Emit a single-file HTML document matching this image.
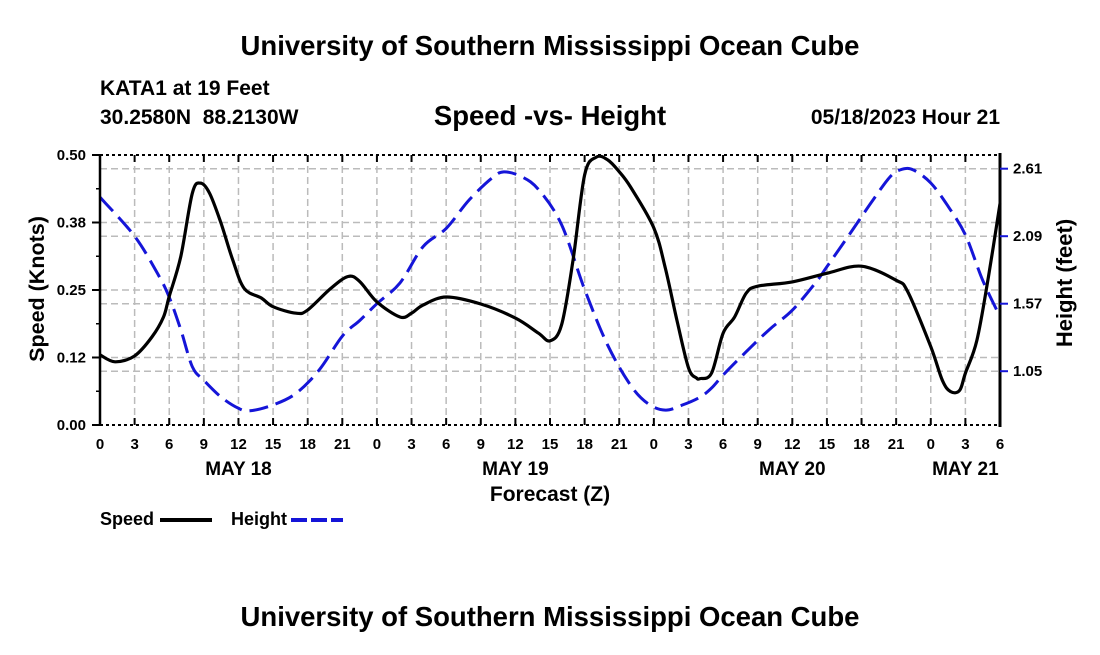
<!DOCTYPE html>
<html><head><meta charset="utf-8"><style>
body{margin:0;background:#fff;width:1100px;height:650px;overflow:hidden}
svg text{font-family:"Liberation Sans",sans-serif;font-weight:bold;fill:#000}
</style></head><body>
<svg id="chart" width="1100" height="650" xmlns="http://www.w3.org/2000/svg">
<text x="550" y="55" font-size="27.5" text-anchor="middle">University of Southern Mississippi Ocean Cube</text>
<text x="100" y="95" font-size="21">KATA1 at 19 Feet</text>
<text x="100" y="124" font-size="21" xml:space="preserve">30.2580N  88.2130W</text>
<text x="550" y="125" font-size="27.5" text-anchor="middle">Speed -vs- Height</text>
<text x="1000" y="124" font-size="21" text-anchor="end">05/18/2023 Hour 21</text>
<text x="550" y="626" font-size="27.5" text-anchor="middle">University of Southern Mississippi Ocean Cube</text>
<g id="grid"></g>
<g id="marks"></g>
<g id="axes"></g>
<text x="550" y="501" font-size="21" text-anchor="middle">Forecast (Z)</text>
<text transform="translate(44,289) rotate(-90)" font-size="21.5" text-anchor="middle">Speed (Knots)</text>
<text transform="translate(1072,283) rotate(-90)" font-size="22" text-anchor="middle">Height (feet)</text>
<g>
<text x="100" y="525" font-size="18">Speed</text>
<line x1="160" y1="520" x2="212" y2="520" stroke="#000" stroke-width="4"/>
<text x="231" y="525" font-size="18">Height</text>
<line x1="291" y1="520" x2="343" y2="520" stroke="#1515d8" stroke-width="4" stroke-dasharray="16,4"/>
</g>
</svg>
<script>
const speedHours=[0,1.3,3,4.5,5.5,6,7,8,8.7,9.5,10.5,11.5,12.5,14,15,17,18,20,21.5,22.5,24,26,27,28,30,33,36,38,39,40,41,42,43,44,45,46,48,49,50,51,51.7,52,53,54,55,56,57,60,63,66,69,70,72,73,73.7,74.5,75,76,77,78];
const speedValues=[0.130,0.117,0.128,0.163,0.200,0.238,0.312,0.429,0.448,0.429,0.373,0.306,0.253,0.235,0.219,0.207,0.213,0.253,0.275,0.266,0.228,0.200,0.207,0.222,0.237,0.224,0.198,0.170,0.156,0.185,0.306,0.463,0.496,0.491,0.469,0.440,0.365,0.290,0.194,0.106,0.087,0.086,0.096,0.170,0.200,0.244,0.257,0.265,0.281,0.294,0.268,0.247,0.145,0.083,0.062,0.064,0.096,0.157,0.275,0.410];
const heightHours=[0,3,5,6,7,8,9,10.5,12,13,15,17,19,21,22.5,24,26,28,30,32,34,35,36.5,38,40,42,44,46,47.5,49,50.5,52,53,54,56,58,60,62,63,65,67,68.5,69.5,70.5,72,73.5,75,76.5,78];
const heightValues=[2.39,2.09,1.80,1.62,1.37,1.085,0.98,0.85,0.764,0.745,0.79,0.88,1.06,1.32,1.44,1.57,1.73,2.01,2.15,2.37,2.54,2.585,2.55,2.45,2.18,1.68,1.25,0.94,0.80,0.75,0.79,0.85,0.92,1.02,1.20,1.37,1.52,1.73,1.855,2.11,2.37,2.55,2.605,2.60,2.50,2.32,2.10,1.75,1.47];
const xTickLabels=["0","3","6","9","12","15","18","21","0","3","6","9","12","15","18","21","0","3","6","9","12","15","18","21","0","3","6"];
const dayLabels=["MAY 18","MAY 19","MAY 20","MAY 21"];
const dayLabelHours=[12,36,60,75];
const leftTicks=[0,0.125,0.25,0.375,0.5];
const leftTickLabels=["0.00","0.12","0.25","0.38","0.50"];
const rightTicks=[1.05,1.57,2.09,2.61];
const rightTickLabels=["1.05","1.57","2.09","2.61"];

const X0=100,X1=1000,YT=155,YB=425,HMAX=78;
const sx=h=>X0+(X1-X0)*h/HMAX;
const syL=v=>YB-(YB-YT)*v/0.5;
const syR=v=>168.7+(2.61-v)*67.5/0.52;
const NS="http://www.w3.org/2000/svg";
function mk(parent,tag,attrs){const e=document.createElementNS(NS,tag);for(const k in attrs)e.setAttribute(k,attrs[k]);parent.appendChild(e);return e;}
function smooth(pts){
  let d="M"+pts[0][0].toFixed(1)+","+pts[0][1].toFixed(1);
  for(let i=0;i<pts.length-1;i++){
    const p0=pts[Math.max(0,i-1)],p1=pts[i],p2=pts[i+1],p3=pts[Math.min(pts.length-1,i+2)];
    const c1=[p1[0]+(p2[0]-p0[0])/6,p1[1]+(p2[1]-p0[1])/6];
    const c2=[p2[0]-(p3[0]-p1[0])/6,p2[1]-(p3[1]-p1[1])/6];
    d+=" C"+c1[0].toFixed(1)+","+c1[1].toFixed(1)+" "+c2[0].toFixed(1)+","+c2[1].toFixed(1)+" "+p2[0].toFixed(1)+","+p2[1].toFixed(1);
  }
  return d;
}
const grid=document.getElementById('grid'),marks=document.getElementById('marks'),axes=document.getElementById('axes');
const gs={stroke:"#bbb","stroke-width":1.5,"stroke-dasharray":"7,4",fill:"none"};
for(let i=1;i<xTickLabels.length-1;i++){
  const x=sx(i*3);
  const l=mk(grid,'line',Object.assign({x1:x,y1:YT,x2:x,y2:YB},gs));
  
  
}
for(const v of leftTicks.slice(1,-1)){
  const l=mk(grid,'line',Object.assign({x1:X0,y1:syL(v),x2:X1,y2:syL(v)},gs));
  
  
}
for(const v of rightTicks){
  const l=mk(grid,'line',Object.assign({x1:X0,y1:syR(v),x2:X1,y2:syR(v)},gs));
  
  
}
const hl=mk(marks,'path',{d:smooth(heightHours.map((h,i)=>[sx(h),syR(heightValues[i])])),fill:"none",stroke:"#1515d8","stroke-width":3,"stroke-dasharray":"19,8"});


const sl=mk(marks,'path',{d:smooth(speedHours.map((h,i)=>[sx(h),syL(speedValues[i])])),fill:"none",stroke:"#000","stroke-width":3.2,"stroke-linejoin":"round"});


for(const y of [YT,YB]){
  const l=mk(axes,'line',{x1:X0,y1:y,x2:X1,y2:y,stroke:"#000","stroke-width":2,"stroke-dasharray":"3,3"});
  
  
}
const la=mk(axes,'line',{x1:X0,y1:YT,x2:X0,y2:YB,stroke:"#000","stroke-width":2.5});


const ra=mk(axes,'line',{x1:X1,y1:YT-2,x2:X1,y2:YB+2,stroke:"#000","stroke-width":3});


xTickLabels.forEach((t,i)=>{
  const x=sx(i*3);
  const a=mk(axes,'line',{x1:x,y1:YB,x2:x,y2:YB-7,stroke:"#000","stroke-width":2});
  
  
  const b=mk(axes,'line',{x1:x,y1:YT,x2:x,y2:YT+7,stroke:"#000","stroke-width":2});
  
  
  const tx=mk(axes,'text',{x:x,y:449,"font-size":15,"text-anchor":"middle"});tx.textContent=t;
  
  
});
dayLabels.forEach((d,i)=>{
  const tx=mk(axes,'text',{x:sx(dayLabelHours[i]),y:475,"font-size":19,"text-anchor":"middle"});tx.textContent=d;
  
  
});
for(let v=0.0625;v<0.5;v+=0.125){
  const m=mk(axes,'line',{x1:X0,y1:syL(v),x2:X0-4,y2:syL(v),stroke:"#000","stroke-width":1.5});
  
  
}
leftTicks.forEach((v,i)=>{
  const y=syL(v);
  const m=mk(axes,'line',{x1:X0,y1:y,x2:X0-8,y2:y,stroke:"#000","stroke-width":2});
  
  
  const tx=mk(axes,'text',{x:86,y:y+5,"font-size":15,"text-anchor":"end"});tx.textContent=leftTickLabels[i];
  
  
});
rightTicks.forEach((v,i)=>{
  const y=syR(v);
  const m=mk(axes,'line',{x1:X1,y1:y,x2:X1+8,y2:y,stroke:"#1515d8","stroke-width":2});
  
  
  const tx=mk(axes,'text',{x:1013,y:y+5,"font-size":15});tx.textContent=rightTickLabels[i];
  
  
});
</script>
</body></html>
